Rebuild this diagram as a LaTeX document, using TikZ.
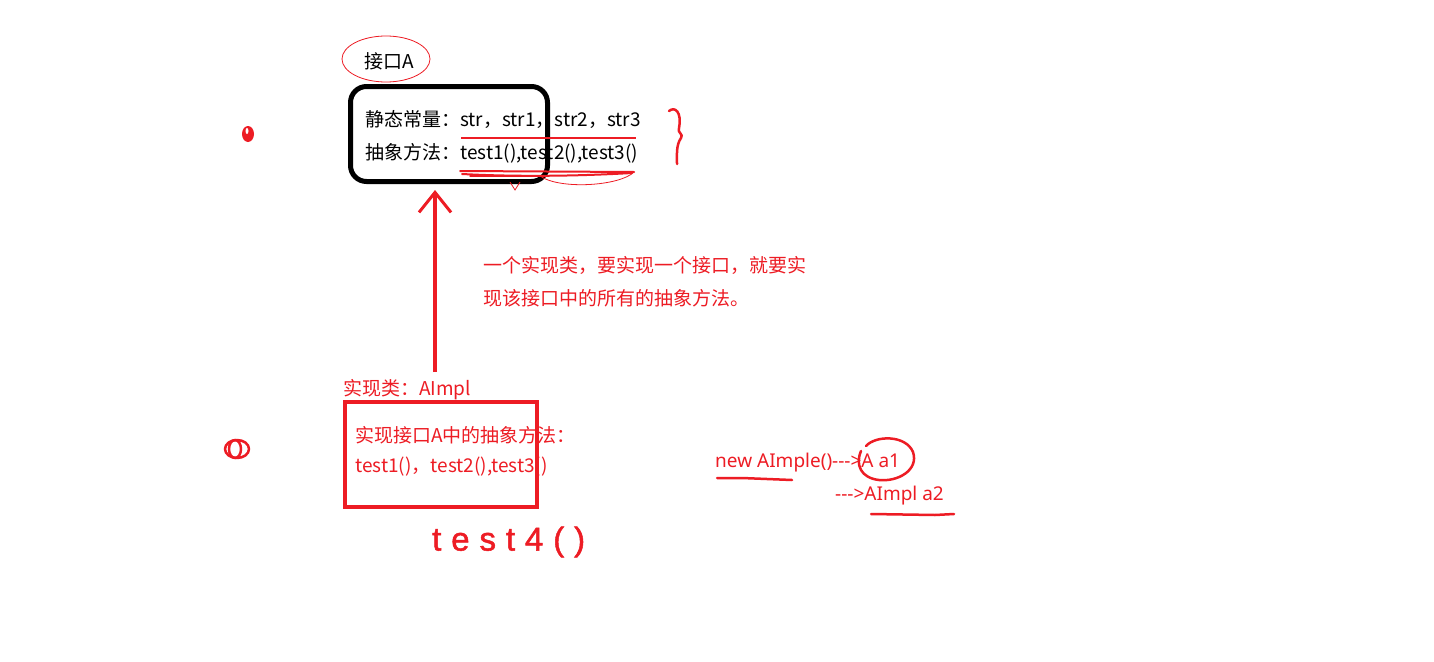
\documentclass[tikz,border=0pt]{standalone}
\usepackage{fontspec}
\setmainfont{Noto Sans CJK SC}
\newfontfamily\latfont{Noto Sans}
\newfontfamily\handfont[LetterSpace=30,FakeBold=1.5]{Liberation Sans}
\usetikzlibrary{arrows.meta,shapes.geometric}
\definecolor{pred}{RGB}{237,28,36}
\begin{document}
\begin{tikzpicture}[x=1pt,y=-1pt,
  txt/.style={anchor=west,inner sep=0pt,font=\fontsize{19}{21}\selectfont},
  rtxt/.style={txt,text=pred},
  ltxt/.style={rtxt,font=\latfont\fontsize{19}{21}\selectfont},
  scrib/.style={pred,line width=2.5pt,line cap=round,line join=round},
  thin/.style={pred,line width=0.8pt}]
\useasboundingbox (0,0) rectangle (1434,661);
\fill[white] (0,0) rectangle (1434,661);

% interface A
\node[txt] (ifname) at (364,61) {接口A};
\node[thin,draw,ellipse,minimum width=88,minimum height=46] (ifoval) at (386,59) {};
\node[draw=black,line width=5pt,rounded corners=16pt,minimum width=197,minimum height=95,inner sep=0pt] (ifbox) at (449,134) {};
\node[txt] (consts) at (365,119) {静态常量：str，str1，str2，str3};
\node[txt] (absm) at (365,153) {抽象方法：test1(),test2(),test3()};

% annotations on interface
\draw[pred,line width=2pt] (461,138) -- (636,138);
\draw[scrib,line width=2pt] (460,171) -- (634,172);
\draw[scrib,line width=2pt] (462,174) .. controls (520,177) and (580,176) .. (632,173);
\draw[scrib,line width=1.5pt] (470,176) -- (548,176);
\draw[thin] (540,176) .. controls (560,190) and (620,186) .. (634,172);
\draw[thin] (510,182) -- (515,190) -- (520,182);
\draw[scrib] (669,111) .. controls (675,106) and (682,112) .. (679,128)
  .. controls (677,133) and (684,134) .. (681,138)
  .. controls (676,145) and (677,155) .. (677,164);

% dots
\fill[pred] (248,134) ellipse (6 and 8);
\fill[white] (247,131) ellipse (1.5 and 3);
\draw[scrib] (237,449) ellipse (12 and 9);
\draw[scrib] (235,449) ellipse (6 and 9);

% implementing class
\node[rtxt] (impllbl) at (343,390) {实现类：AImpl};
\node[draw=pred,line width=4pt,minimum width=192,minimum height=105,inner sep=0pt] (implbox) at (441,454.5) {};
\node[rtxt] (implt1) at (355,435) {实现接口A中的抽象方法：};
\node[rtxt] (implt2) at (355,467) {test1()，test2(),test3()};
\node[anchor=west,inner sep=0pt,text=pred,font=\handfont\fontsize{33}{35}\selectfont] (t4) at (432,542) {test4()};

% arrow
\coordinate (arrS) at (435,372);
\coordinate (arrE) at (435,190);
\draw[pred,line width=4pt,-{Straight Barb[length=20pt,width=32pt,line width=3pt]}] (arrS) -- (arrE);

% note
\node[rtxt] (note1) at (483,265) {一个实现类，要实现一个接口，就要实};
\node[rtxt] (note2) at (483,298) {现该接口中的所有的抽象方法。};

% right side
\node[ltxt] (new1) at (715,463) {new AImple()-{}-{}->A a1};
\node[ltxt] (new2) at (835,496) {-{}-{}->AImpl a2};
\draw[scrib] (717,478) -- (742,478) -- (792,480);
\draw[scrib] (871,514) -- (935,515) -- (954,514);
\draw[scrib] (866,446) .. controls (876,435) and (906,435) .. (913,452)
  .. controls (919,470) and (898,482) .. (879,480)
  .. controls (861,478) and (855,465) .. (861,451);
\end{tikzpicture}
\end{document}
